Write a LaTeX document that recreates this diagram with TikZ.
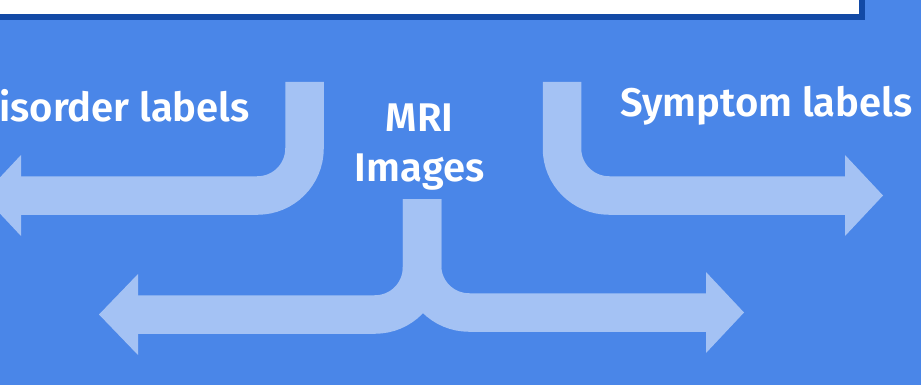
\documentclass[tikz,border=0pt]{standalone}
\usepackage{fontspec}
\setmainfont{Fira Sans}[BoldFont={Fira Sans SemiBold}]
\definecolor{bgblue}{HTML}{4A86E8}
\definecolor{arrowblue}{HTML}{A4C2F4}
\definecolor{borderblue}{HTML}{134AA6}
\tikzset{
  band/.style={draw=arrowblue, line width=38.5pt, rounded corners=47pt},
  headtip/.style={fill=arrowblue},
  lbl/.style={text=white, inner sep=0pt, font=\fontsize{40}{50}\selectfont\bfseries},
}
\begin{document}
\begin{tikzpicture}[x=1pt,y=-1pt]
\useasboundingbox (0,0) rectangle (921,385);
\clip (0,0) rectangle (921,385);
\fill[bgblue] (0,0) rectangle (921,385);
% top box
\draw[borderblue, line width=5.5pt, fill=white] (-20,-20) rectangle (861.75,17.25);

% upper left arrow (Disorder)
\coordinate (dtop) at (304.5,82);
\coordinate (dend) at (15,195.5);
\draw[band] (dtop) |- (dend);
\fill[headtip] (21,155) -- (-17,195.5) -- (21,236) -- cycle;

% upper right arrow (Symptom)
\coordinate (stop) at (562,82);
\coordinate (send) at (851,195.5);
\draw[band] (stop) |- (send);
\fill[headtip] (845,155) -- (883,195.5) -- (845,236) -- cycle;

% bottom double arrow
\coordinate (mtop) at (422,199);
\coordinate (lend) at (132,314.5);
\coordinate (rend) at (712,312.5);
\draw[band] (mtop) |- (lend);
\draw[band] (mtop) |- (rend);
\fill[headtip] (138,274) -- (99,314.5) -- (138,355) -- cycle;
\fill[headtip] (706,272) -- (744,312.5) -- (706,353) -- cycle;

% labels
\node[lbl, anchor=base east] (dis) at (250,122) {Disorder labels};
\node[lbl, anchor=base west] (sym) at (620,117) {Symptom labels};
\node[lbl, align=center] (mri) at (419.5,147.5) {MRI\\Images};
\end{tikzpicture}
\end{document}
